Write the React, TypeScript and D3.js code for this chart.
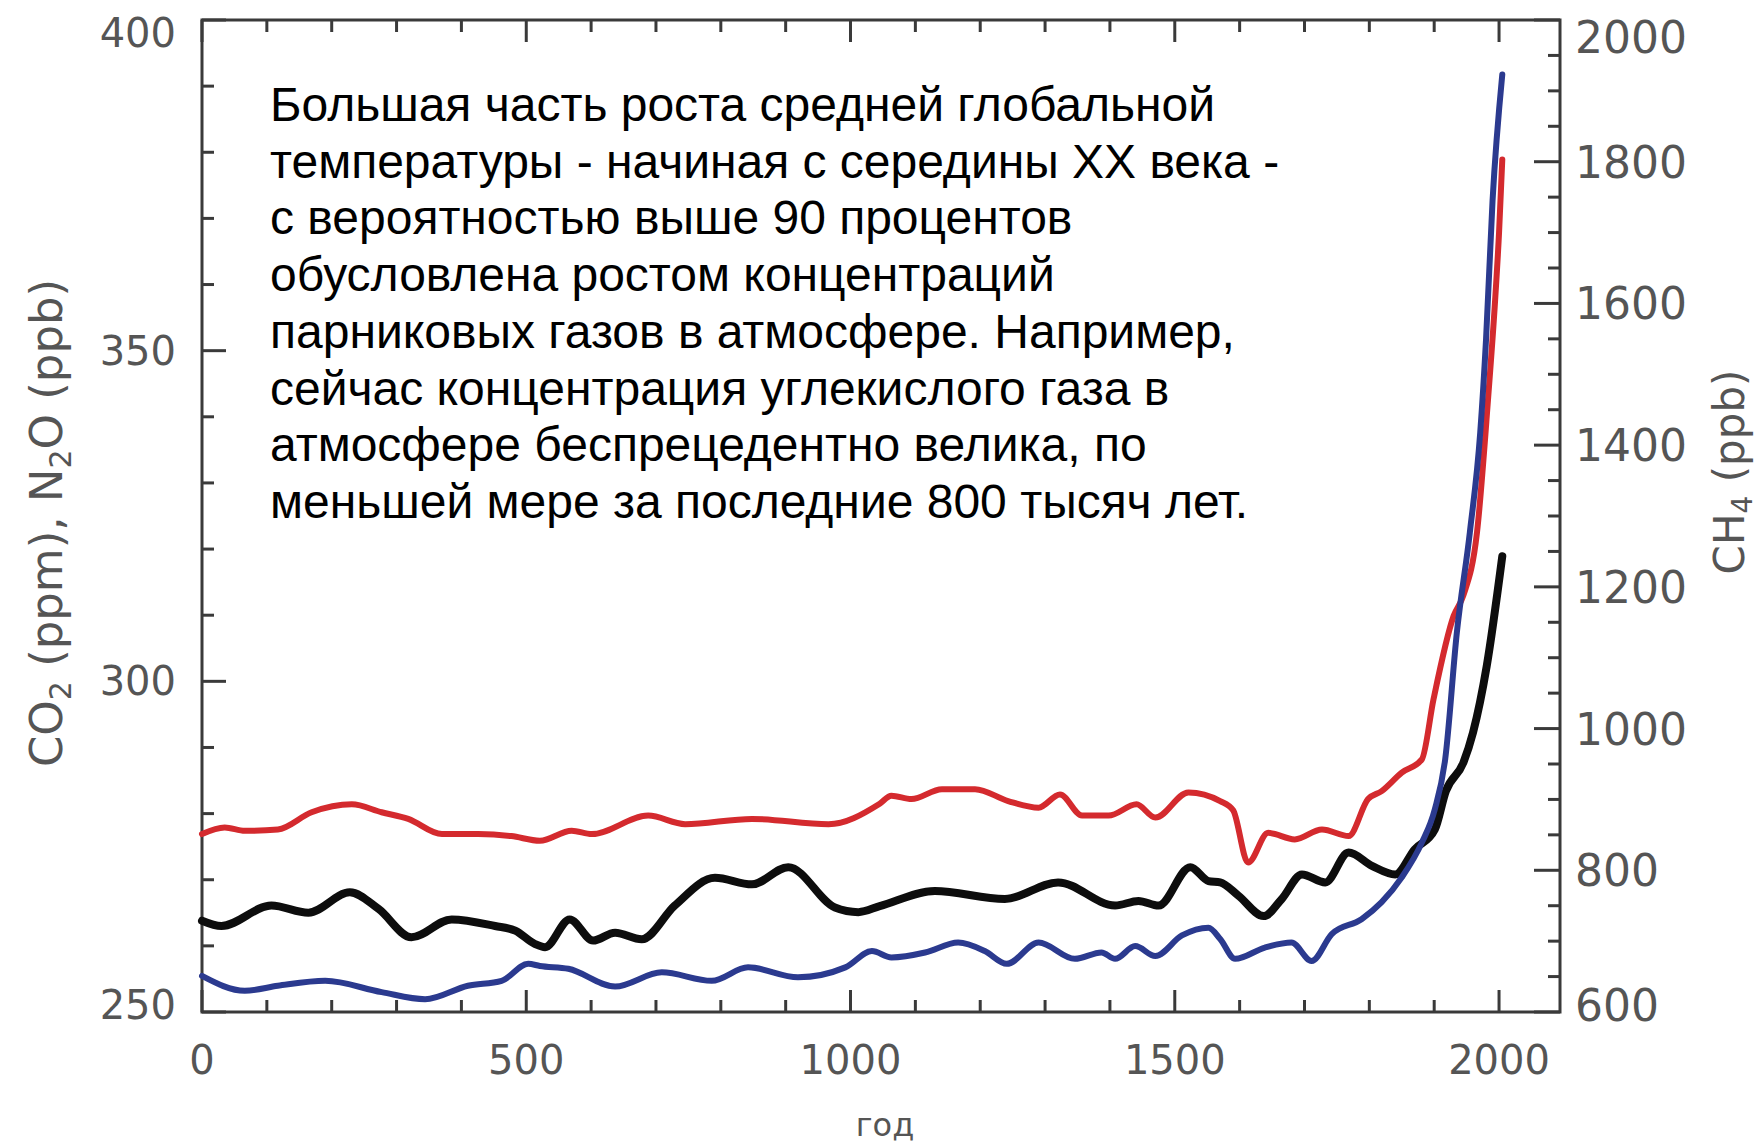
import { scaleLinear, line as d3_line, curveMonotoneX, range } from "d3";

// CO2 (ppm), left axis - red
const co2Years = [0, 35, 66, 117, 169, 231, 277, 318, 370, 426, 477, 521, 570, 601, 688, 745, 848, 966, 1045, 1063, 1094, 1141, 1192, 1243, 1290, 1323, 1357, 1398, 1441, 1470, 1521, 1570, 1590, 1613, 1644, 1685, 1727, 1768, 1798, 1819, 1850, 1881, 1899, 1930, 1945, 1966, 1983, 1994, 2000, 2005];
const co2Values = [276.9, 277.9, 277.4, 277.6, 280.2, 281.4, 280.2, 279.2, 276.9, 276.9, 276.6, 275.9, 277.4, 276.9, 279.7, 278.4, 279.2, 278.4, 281.5, 282.7, 282.2, 283.7, 283.7, 281.9, 280.9, 282.9, 279.7, 279.7, 281.4, 279.4, 283.2, 281.9, 280.5, 272.6, 277.1, 276.1, 277.6, 276.6, 282.2, 283.4, 286.2, 288.2, 297.3, 309.9, 313.0, 322.5, 342.6, 357.7, 367.8, 378.9];

// N2O (ppb), left axis - black
const n2oYears = [0, 30, 107, 164, 228, 272, 323, 385, 452, 483, 513, 529, 567, 603, 637, 678, 729, 791, 848, 904, 976, 1012, 1045, 1130, 1238, 1320, 1408, 1444, 1475, 1524, 1552, 1570, 1598, 1637, 1665, 1696, 1732, 1768, 1804, 1840, 1870, 1901, 1918, 1945, 1960, 1981, 2005];
const n2oValues = [263.8, 263.0, 266.1, 265.0, 268.1, 265.6, 261.3, 264.0, 263.0, 262.3, 260.3, 259.8, 264.0, 260.8, 262.0, 261.0, 266.1, 270.3, 269.3, 271.9, 265.8, 265.1, 266.0, 268.3, 267.1, 269.6, 266.1, 266.8, 266.1, 271.9, 269.8, 269.6, 267.6, 264.5, 267.1, 270.8, 269.6, 274.1, 272.1, 270.8, 274.6, 277.6, 283.4, 287.7, 292.3, 302.3, 318.9];

// CH4 (ppb), right axis - blue
const ch4Years = [0, 66, 117, 190, 277, 344, 410, 462, 503, 521, 565, 637, 709, 786, 842, 919, 992, 1033, 1063, 1115, 1166, 1207, 1241, 1290, 1346, 1387, 1408, 1439, 1470, 1511, 1552, 1570, 1593, 1639, 1680, 1711, 1742, 1788, 1819, 1850, 1881, 1901, 1917, 1935, 1955, 1971, 1980, 1990, 2005];
const ch4Values = [651, 630, 637, 644, 628, 618, 637, 644, 668, 665, 661, 636, 656, 644, 663, 649, 663, 686, 677, 684, 698, 686, 668, 698, 675, 684, 675, 693, 679, 708, 719, 703, 675, 691, 698, 672, 710, 731, 755, 790, 839, 886, 957, 1136, 1277, 1418, 1550, 1745, 1923];

const xTickLabels = [0, 500, 1000, 1500, 2000];
const leftTickLabels = [250, 300, 350, 400];
const rightTickLabels = [600, 800, 1000, 1200, 1400, 1600, 1800, 2000];

const noteLines = [
  "Большая часть роста средней глобальной",
  "температуры - начиная с середины XX века -",
  "с вероятностью выше 90 процентов",
  "обусловлена ростом концентраций",
  "парниковых газов в атмосфере. Например,",
  "сейчас концентрация углекислого газа в",
  "атмосфере беспрецедентно велика, по",
  "меньшей мере за последние 800 тысяч лет.",
];

const W = 1764;
const H = 1144;
const left = 202;
const right = 1560;
const top = 20;
const bottom = 1012;

const axisColor = "#3a3a3a";
const labelColor = "#555";
const tickFont = "'DejaVu Sans', sans-serif";

export default function App() {
  const x = scaleLinear().domain([0, 2094]).range([left, right]);
  const yL = scaleLinear().domain([250, 400]).range([bottom, top]);
  const yR = scaleLinear().domain([600, 2000]).range([bottom, top]);

  const mk = (ys: number[], vs: number[], sc: (v: number) => number) =>
    d3_line<number>()
      .x((_, i) => x(ys[i]))
      .y((v) => sc(v))
      .curve(curveMonotoneX)(vs) as string;

  const co2Path = mk(co2Years, co2Values, yL);
  const n2oPath = mk(n2oYears, n2oValues, yL);
  const ch4Path = mk(ch4Years, ch4Values, yR);

  const xMinor = range(0, 2001, 100);
  const leftMinor = range(250, 401, 10);
  const rightMinor = range(600, 2001, 50);

  // labels at the ends of the vertical axes sit inside the frame
  const clampY = (y: number, lo: number, hi: number) => Math.min(Math.max(y, lo), hi);

  return (
    <svg
      width={W}
      height={H}
      viewBox={`0 0 ${W} ${H}`}
      style={{ position: "absolute", left: 0, top: 0, background: "#fff" }}
    >
      <rect width={W} height={H} fill="#fff" />

      {/* ticks: bottom and top */}
      {xMinor.map((v) => {
        const len = v % 500 === 0 ? 22 : 12;
        return (
          <g key={"x" + v} stroke={axisColor} strokeWidth={3}>
            <line x1={x(v)} x2={x(v)} y1={bottom} y2={bottom - len} />
            <line x1={x(v)} x2={x(v)} y1={top} y2={top + len} />
          </g>
        );
      })}
      {/* left ticks */}
      {leftMinor.map((v) => (
        <line
          key={"l" + v}
          x1={left}
          x2={left + (v % 50 === 0 ? 24 : 12)}
          y1={yL(v)}
          y2={yL(v)}
          stroke={axisColor}
          strokeWidth={3}
        />
      ))}
      {/* right ticks */}
      {rightMinor.map((v) => (
        <line
          key={"r" + v}
          x1={right}
          x2={right - (v % 200 === 0 ? 26 : 12)}
          y1={yR(v)}
          y2={yR(v)}
          stroke={axisColor}
          strokeWidth={3}
        />
      ))}

      {/* frame */}
      <rect
        x={left}
        y={top}
        width={right - left}
        height={bottom - top}
        fill="none"
        stroke={axisColor}
        strokeWidth={3}
      />

      {/* series */}
      <path d={co2Path} fill="none" stroke="#d42a2e" strokeWidth={6} strokeLinejoin="round" strokeLinecap="round" />
      <path d={n2oPath} fill="none" stroke="#0d0d0d" strokeWidth={8} strokeLinejoin="round" strokeLinecap="round" />
      <path d={ch4Path} fill="none" stroke="#2b3a8f" strokeWidth={6} strokeLinejoin="round" strokeLinecap="round" />

      {/* tick labels */}
      <g fill={labelColor} fontFamily={tickFont}>
        {xTickLabels.map((v) => (
          <text key={"xl" + v} x={x(v)} y={1074} textAnchor="middle" fontSize={40}>
            {v}
          </text>
        ))}
        {leftTickLabels.map((v) => (
          <text key={"ll" + v} x={176} y={clampY(yL(v) + 14, 47, 1019)} textAnchor="end" fontSize={40}>
            {v}
          </text>
        ))}
        {rightTickLabels.map((v) => (
          <text key={"rl" + v} x={1575} y={clampY(yR(v) + 16, 53, 1021)} textAnchor="start" fontSize={44}>
            {v}
          </text>
        ))}
      </g>

      {/* axis titles */}
      <text
        transform="translate(62,523) rotate(-90)"
        textAnchor="middle"
        fill={labelColor}
        fontFamily={tickFont}
        fontSize={45}
      >
        CO<tspan fontSize={30} dy={9}>2</tspan>
        <tspan dy={-9}> (ppm), N</tspan>
        <tspan fontSize={30} dy={9}>2</tspan>
        <tspan dy={-9}>O (ppb)</tspan>
      </text>
      <text
        transform="translate(1744,472) rotate(-90)"
        textAnchor="middle"
        fill={labelColor}
        fontFamily={tickFont}
        fontSize={42}
      >
        CH<tspan fontSize={28} dy={8}>4</tspan>
        <tspan dy={-8}> (ppb)</tspan>
      </text>
      <text x={885} y={1136} textAnchor="middle" fill={labelColor} fontFamily={tickFont} fontSize={32}>
        год
      </text>

      {/* annotation */}
      <g fontFamily="'Liberation Sans', Arial, sans-serif" fontSize={48} fill="#000">
        {noteLines.map((t, i) => (
          <text key={i} x={270} y={121 + i * 56.7}>
            {t}
          </text>
        ))}
      </g>
    </svg>
  );
}
